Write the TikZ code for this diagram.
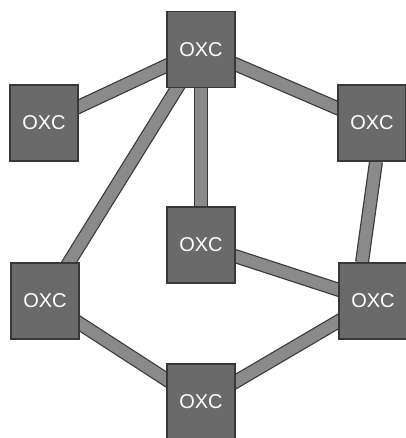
\documentclass[tikz,border=0pt]{standalone}
\usepackage{fontspec}
\setmainfont{Liberation Sans}
\usepackage{xcolor}
\usepackage{tikz}
\usetikzlibrary{calc,backgrounds}

\definecolor{boxgray}{HTML}{6A6A6A}
\definecolor{bargray}{HTML}{8A8A8A}
\definecolor{edgegray}{HTML}{383838}

\begin{document}
\begin{tikzpicture}[x=0.75pt,y=-0.75pt,
  oxc/.style={draw=edgegray, line width=1pt, fill=boxgray, minimum width=51pt, minimum height=57pt,
    inner sep=0pt, text=white, font=\fontsize{15}{15}\selectfont},
  barout/.style={draw=edgegray, line width=10.5pt},
  barin/.style={draw=bargray, line width=8.7pt}]
\useasboundingbox (0,0) rectangle (405,438);
% switches
\node[oxc] (top) at (201,49.5) {OXC};
\node[oxc] (left) at (44,123) {OXC};
\node[oxc] (right) at (372,123) {OXC};
\node[oxc] (center) at (201,245) {OXC};
\node[oxc] (leftlow) at (45,301) {OXC};
\node[oxc] (rightlow) at (373,301) {OXC};
\node[oxc] (bottom) at (201,402) {OXC};
% links
\begin{scope}[on background layer]
\fill[white] (0,0) rectangle (405,438);
\coordinate (rs) at ($(right.south)+(4,0)$);
\coordinate (rn) at ($(rightlow.north)+(-11,0)$);
\foreach \a/\b in {top.center/left.center,top.center/right.center,top.center/center.center,
  top.center/leftlow.center,rs/rn,center.center/rightlow.center,
  leftlow.center/bottom.center,bottom.center/rightlow.center}{
  \draw[barout] (\a) -- (\b);
}
\foreach \a/\b in {top.center/left.center,top.center/right.center,top.center/center.center,
  top.center/leftlow.center,rs/rn,center.center/rightlow.center,
  leftlow.center/bottom.center,bottom.center/rightlow.center}{
  \draw[barin] (\a) -- (\b);
}
\end{scope}
\end{tikzpicture}
\end{document}
